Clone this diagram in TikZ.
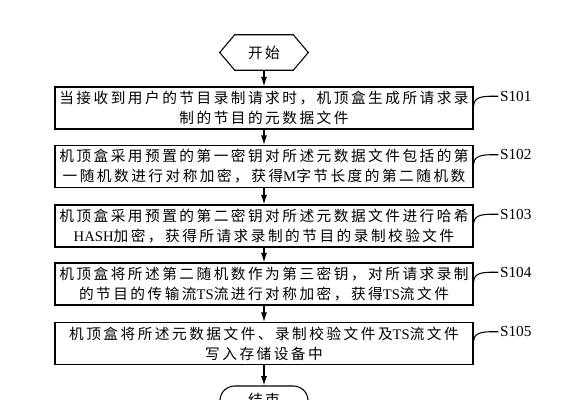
\documentclass[tikz,border=0pt]{standalone}
\usepackage{fontspec}
\setmainfont{Liberation Serif}
\newfontfamily\cjk[LetterSpace=17]{Noto Sans CJK SC}
\usetikzlibrary{arrows.meta,positioning}

\begin{document}
\begin{tikzpicture}[x=0.75pt,y=-0.75pt,
		stepbox/.style={draw,line width=1.1pt,minimum width=313.5pt,minimum height=31.5pt,inner sep=0pt,align=center,font=\cjk\fontsize{11pt}{15pt}\selectfont},
		endbox/.style={minimum width=66pt,inner sep=0pt,font=\cjk\fontsize{11pt}{15pt}\selectfont},
		flow/.style={line width=0.8pt,-{Latex[length=7pt,width=4.5pt]}},
		tag/.style={anchor=west,inner sep=0pt,font=\fontsize{11.5pt}{14pt}\selectfont}]
		\useasboundingbox (0,0) rectangle (583,400);
		% start
		\node[endbox,minimum height=26.25pt] (start) at (264,52.5) {开始};
		\draw[line width=0.8pt] (start.west) -- ([xshift=11.25pt]start.north west) -- ([xshift=-11.25pt]start.north east)
			-- (start.east) -- ([xshift=-11.25pt]start.south east) -- ([xshift=11.25pt]start.south west) -- cycle;
		% steps
		\node[stepbox] (s101) at (264,108) {当接收到用户的节目录制请求时，机顶盒生成所请求录\\制的节目的元数据文件};
		\node[stepbox] (s102) at (264,166.5) {机顶盒采用预置的第一密钥对所述元数据文件包括的第\\一随机数进行对称加密，获得{\rmfamily M}字节长度的第二随机数};
		\node[stepbox] (s103) at (264,226) {机顶盒采用预置的第二密钥对所述元数据文件进行哈希\\{\rmfamily HASH}加密，获得所请求录制的节目的录制校验文件};
		\node[stepbox] (s104) at (264,284) {机顶盒将所述第二随机数作为第三密钥，对所请求录制\\的节目的传输流{\rmfamily TS}流进行对称加密，获得{\rmfamily TS}流文件};
		\node[stepbox] (s105) at (264,343.5) {机顶盒将所述元数据文件、录制校验文件及{\rmfamily TS}流文件\\写入存储设备中};
		% end
		\node[endbox,draw,line width=0.8pt,rounded corners=11pt,minimum height=21pt] (stop) at (264,400) {结束};
		% arrows
		\draw[flow] (start) -- (s101);
		\draw[flow] (s101) -- (s102);
		\draw[flow] (s102) -- (s103);
		\draw[flow] (s103) -- (s104);
		\draw[flow] (s104) -- (s105);
		\draw[flow] (s105) -- (stop);
		% step labels
		\foreach \i in {101,...,105}{
			\node[tag] (l\i) at ([xshift=19.5pt,yshift=-7.5pt]s\i.north east) {S\i};
			\draw[line width=0.8pt] ([yshift=2pt]s\i.east) to[out=90,in=180] ([xshift=-1pt]l\i.west);
		}
\end{tikzpicture}
\end{document}
